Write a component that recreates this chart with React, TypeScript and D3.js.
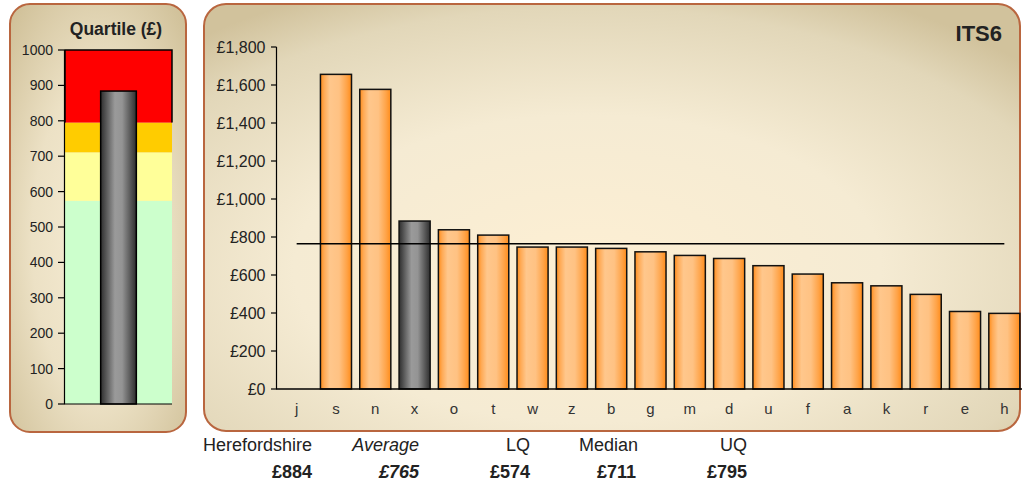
import React from "react";
import * as d3 from "d3";

const categories = ["j", "s", "n", "x", "o", "t", "w", "z", "b", "g", "m", "d", "u", "f", "a", "k", "r", "e", "h"];
const values: (number | null)[] = [null, 1656, 1577, 884, 838, 810, 747, 747, 740, 722, 703, 687, 649, 605, 559, 543, 498, 408, 398];
const highlight = "x";
const average = 765;
const yTicks = [0, 200, 400, 600, 800, 1000, 1200, 1400, 1600, 1800];

const quartileTicks = [0, 100, 200, 300, 400, 500, 600, 700, 800, 900, 1000];
const lq = 574;
const median = 711;
const uq = 795;
const quartileMax = 1000;
const herefordshire = 884;

const summaryLabels = ["Herefordshire", "Average", "LQ", "Median", "UQ"];
const summaryValues = [herefordshire, average, lq, median, uq];

const FONT = "'Liberation Sans', Arial, Helvetica, sans-serif";

export default function App() {
  const x = d3.scaleBand<string>().domain(categories).range([277, 1024]).paddingInner(0.21).paddingOuter(0.105);
  const y = d3.scaleLinear().domain([0, 1800]).range([389, 47]);
  const fmt = d3.format(",");

  const qy = d3.scaleLinear().domain([0, quartileMax]).range([404, 50]);
  const qx0 = 65;
  const qx1 = 172;
  const qBar = d3.scaleBand<string>().domain(["H"]).range([qx0, qx1]).padding(0.5);

  const bands = [
    { lo: 0, hi: lq, color: "#ccffcc" },
    { lo: lq, hi: median, color: "#ffff99" },
    { lo: median, hi: uq, color: "#ffcc00" },
    { lo: uq, hi: quartileMax, color: "#ff0000" },
  ];

  const summaryX = [312, 419, 530, 638, 747];
  const summaryValX = [312, 419, 530, 636, 747];

  const avgX0 = (x(categories[0]) as number) + x.bandwidth() / 2;
  const avgX1 = (x(categories[categories.length - 1]) as number) + x.bandwidth() / 2;

  return (
    <svg width={1022} height={486} style={{ position: "absolute", left: 0, top: 0, display: "block", fontFamily: FONT }}>
      <defs>
        <radialGradient id="panelL" cx="0.5" cy="0.55" r="0.75">
          <stop offset="0" stopColor="#f6ecd4" />
          <stop offset="0.5" stopColor="#ece1c5" />
          <stop offset="1" stopColor="#cdbd94" />
        </radialGradient>
        <radialGradient id="panelR" cx="0.47" cy="0.62" r="0.72">
          <stop offset="0" stopColor="#fdefd3" />
          <stop offset="0.5" stopColor="#f5ebd3" />
          <stop offset="0.85" stopColor="#e2d7b9" />
          <stop offset="1" stopColor="#d1c29c" />
        </radialGradient>
        <linearGradient id="orange" x1="0" x2="1" y1="0" y2="0">
          <stop offset="0" stopColor="#ff8c1a" />
          <stop offset="0.12" stopColor="#ffaa55" />
          <stop offset="0.3" stopColor="#ffc78c" />
          <stop offset="0.6" stopColor="#ffc283" />
          <stop offset="0.85" stopColor="#ffa347" />
          <stop offset="1" stopColor="#ff8c1a" />
        </linearGradient>
        <linearGradient id="grey" x1="0" x2="1" y1="0" y2="0">
          <stop offset="0" stopColor="#2e2e2e" />
          <stop offset="0.4" stopColor="#9a9a9a" />
          <stop offset="0.6" stopColor="#949494" />
          <stop offset="1" stopColor="#2e2e2e" />
        </linearGradient>
      </defs>

      {/* Left panel */}
      <rect x={10} y={4} width={176} height={428} rx={20} ry={20} fill="url(#panelL)" stroke="#b9663f" strokeWidth={2} />
      <text x={116} y={35} textAnchor="middle" fontSize={17.5} fontWeight="bold" fill="#222">Quartile (£)</text>

      {bands.map((b, i) => (
        <rect key={i} x={qx0} y={qy(b.hi)} width={qx1 - qx0} height={qy(b.lo) - qy(b.hi)} fill={b.color} />
      ))}
      <path d={`M${qx0},${qy(uq)}V${qy(quartileMax)}H${qx1}V${qy(uq)}`} fill="none" stroke="#000" strokeWidth={1.5} />
      <rect
        x={qBar("H")}
        y={qy(herefordshire)}
        width={qBar.bandwidth()}
        height={qy(0) - qy(herefordshire)}
        fill="url(#grey)"
        stroke="#000"
        strokeWidth={1.5}
      />
      <line x1={64.5} x2={64.5} y1={qy(quartileMax)} y2={qy(0)} stroke="#000" strokeWidth={1.2} />
      <line x1={64} x2={qx1} y1={qy(0)} y2={qy(0)} stroke="#000" strokeWidth={1.2} />
      {quartileTicks.map((t) => (
        <g key={t}>
          <line x1={58} x2={64.5} y1={qy(t)} y2={qy(t)} stroke="#000" strokeWidth={1.2} />
          <text x={53} y={qy(t) + 5} textAnchor="end" fontSize={14} fill="#222">{t}</text>
        </g>
      ))}

      {/* Right panel */}
      <rect x={204} y={4} width={816} height={427} rx={22} ry={22} fill="url(#panelR)" stroke="#b9663f" strokeWidth={2} />
      <text x={1002} y={40.5} textAnchor="end" fontSize={22} fontWeight="bold" fill="#222">ITS6</text>

      {categories.map((c, i) => {
        const v = values[i];
        if (v == null) return null;
        return (
          <rect
            key={c}
            x={x(c)}
            y={y(v)}
            width={x.bandwidth()}
            height={y(0) - y(v)}
            fill={c === highlight ? "url(#grey)" : "url(#orange)"}
            stroke="#111"
            strokeWidth={1.5}
          />
        );
      })}

      <line x1={avgX0} x2={avgX1} y1={y(average)} y2={y(average)} stroke="#000" strokeWidth={1.5} />

      <line x1={276.5} x2={276.5} y1={y(1800)} y2={y(0)} stroke="#000" strokeWidth={1.2} />
      <line x1={276} x2={1022} y1={y(0)} y2={y(0)} stroke="#000" strokeWidth={1.5} />
      {yTicks.map((t) => (
        <g key={t}>
          <line x1={271} x2={276.5} y1={y(t)} y2={y(t)} stroke="#000" strokeWidth={1.2} />
          <text x={265.5} y={y(t) + 5.7} textAnchor="end" fontSize={16} fill="#222">{"£" + fmt(t)}</text>
        </g>
      ))}
      {categories.map((c) => (
        <text key={c} x={(x(c) as number) + x.bandwidth() / 2} y={413.5} textAnchor="middle" fontSize={15} fill="#333">{c}</text>
      ))}

      {summaryLabels.map((l, i) => (
        <text key={l} x={summaryX[i]} y={450.5} textAnchor="end" fontSize={18} fill="#222" fontStyle={l === "Average" ? "italic" : "normal"}>{l}</text>
      ))}
      {summaryValues.map((v, i) => (
        <text key={i} x={summaryValX[i]} y={478.3} textAnchor="end" fontSize={18} fontWeight="bold" fill="#222" fontStyle={i === 1 ? "italic" : "normal"}>{"£" + v}</text>
      ))}
    </svg>
  );
}
